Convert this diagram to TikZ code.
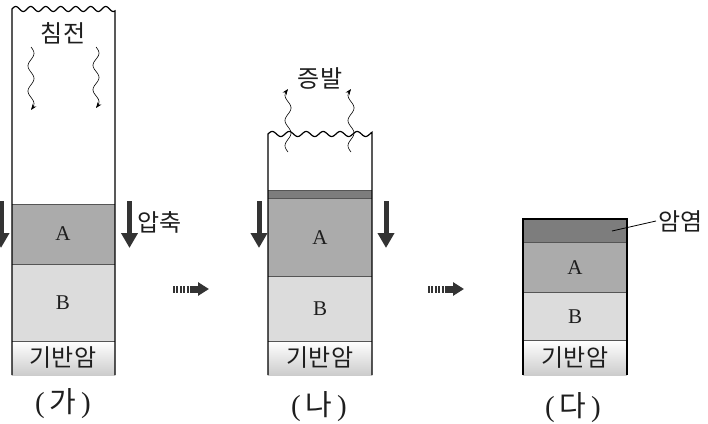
\documentclass[tikz,border=0pt]{standalone}
\usepackage{fontspec}
\setmainfont{Liberation Serif}
\newfontfamily\kr{Noto Sans CJK KR}
\usetikzlibrary{arrows.meta}
\definecolor{layA}{HTML}{ABABAB}
\definecolor{layB}{HTML}{DCDCDC}
\definecolor{layS}{HTML}{7D7D7D}
\definecolor{baseC}{HTML}{CCCCCC}
\definecolor{arrC}{HTML}{333333}
\definecolor{sepC}{HTML}{555555}
\definecolor{txtC}{HTML}{1E1E1E}
\begin{document}
\begin{tikzpicture}[x=1pt,y=-1pt,
  edge/.style={draw=black,line width=1.2pt},
  sepline/.style={draw=sepC,line width=0.8pt},
  bigarrow/.style={draw=arrC,line width=5pt,-{Triangle[width=16pt,length=15pt,fill=arrC]}},
  wavyarrow/.style={draw=black,line width=0.6pt,-{Stealth[length=6pt,width=4.5pt]}},
  flowarrow/.style={draw=arrC,line width=7pt},
  lbl/.style={font=\kr\fontsize{24}{24}\selectfont,text=txtC,inner sep=2pt},
  letter/.style={font=\fontsize{21}{21}\selectfont,text=txtC},
  caption/.style={font=\fontsize{29}{29}\selectfont,text=txtC}]
\useasboundingbox (0,0) rectangle (708,423);
\clip (0,0) rectangle (708,423);

% ---------- column 1 ----------
\fill[layA] (12,204) rectangle (115,264);
\fill[layB] (12,264) rectangle (115,341);
\shade[top color=white,bottom color=baseC] (12,341) rectangle (115,375);
\draw[sepline] (12,204) -- (115,204);
\draw[sepline] (12,264) -- (115,264);
\draw[sepline] (12,341) -- (115,341);
\draw[edge] (12,375) -- plot[domain=12:115,samples=150] (\x,{9-2.5*sin((\x-12)*24)}) -- (115,375);
\node[lbl] (chim) at (63,33) {침전};
\draw[wavyarrow] plot[domain=0:1,samples=60] ({31+3*sin(\x*900)},{47+63*\x});
\draw[wavyarrow] plot[domain=0:1,samples=60] ({96+3*sin(\x*900)},{47+61*\x});
\node[letter] (a1) at (63,234) {A};
\node[letter] (b1) at (63,303) {B};
\node[lbl] (g1) at (63,358) {기반암};
\coordinate (p1s) at (1,201); \coordinate (p1e) at (1,248);
\draw[bigarrow] (p1s) -- (p1e);
\coordinate (p2s) at (129.5,201); \coordinate (p2e) at (129.5,248);
\draw[bigarrow] (p2s) -- (p2e);
\node[lbl,anchor=west] (apchuk) at (135,222) {압축};
\node[caption] (cap1) at (63,404) {(\,{\kr 가}\,)};

% ---------- flow arrow 1 ----------
\coordinate (f1a) at (173,289); \coordinate (f1b) at (192,289); \coordinate (f1c) at (209,289);
\draw[flowarrow,dash pattern=on 2pt off 1.4pt] (f1a) -- (f1b);
\draw[flowarrow,-{Triangle[width=13pt,length=11pt]}] (f1b) -- (f1c);

% ---------- column 2 ----------
\fill[layS] (268,190) rectangle (372,198);
\fill[layA] (268,198) rectangle (372,276);
\fill[layB] (268,276) rectangle (372,341);
\shade[top color=white,bottom color=baseC] (268,341) rectangle (372,375);
\draw[sepline] (268,190) -- (372,190);
\draw[sepline] (268,198) -- (372,198);
\draw[sepline] (268,276) -- (372,276);
\draw[sepline] (268,341) -- (372,341);
\draw[edge] (268,375) -- plot[domain=268:372,samples=150] (\x,{134-2.5*sin((\x-268)*21.2)}) -- (372,375);
\node[lbl] (jeung) at (320,78) {증발};
\draw[wavyarrow] plot[domain=0:1,samples=60] ({288-3*sin(\x*900)},{152-63*\x});
\draw[wavyarrow] plot[domain=0:1,samples=60] ({351-3*sin(\x*900)},{152-63*\x});
\node[letter] (a2) at (320,238) {A};
\node[letter] (b2) at (320,309) {B};
\node[lbl] (g2) at (320,358) {기반암};
\coordinate (p3s) at (259,201); \coordinate (p3e) at (259,248);
\draw[bigarrow] (p3s) -- (p3e);
\coordinate (p4s) at (386,201); \coordinate (p4e) at (386,248);
\draw[bigarrow] (p4s) -- (p4e);
\node[caption] (cap2) at (319,407) {(\,{\kr 나}\,)};

% ---------- flow arrow 2 ----------
\coordinate (f2a) at (428,289); \coordinate (f2b) at (447,289); \coordinate (f2c) at (464,289);
\draw[flowarrow,dash pattern=on 2pt off 1.4pt] (f2a) -- (f2b);
\draw[flowarrow,-{Triangle[width=13pt,length=11pt]}] (f2b) -- (f2c);

% ---------- column 3 ----------
\fill[layS] (523,219) rectangle (627,242);
\fill[layA] (523,242) rectangle (627,292);
\fill[layB] (523,292) rectangle (627,340);
\shade[top color=white,bottom color=baseC] (523,340) rectangle (627,375);
\draw[sepline] (523,242) -- (627,242);
\draw[sepline] (523,292) -- (627,292);
\draw[sepline] (523,340) -- (627,340);
\draw[edge] (523,375) -- (523,219) -- (627,219) -- (627,375);
\node[letter] (a3) at (575,268) {A};
\node[letter] (b3) at (575,317) {B};
\node[lbl] (g3) at (575,358) {기반암};
\node[lbl,anchor=west] (amyeom) at (656,221) {암염};
\coordinate (salt) at (612,231);
\draw[black,line width=0.8pt] (salt) -- (amyeom.west);
\node[caption] (cap3) at (573,408) {(\,{\kr 다}\,)};
\end{tikzpicture}
\end{document}
